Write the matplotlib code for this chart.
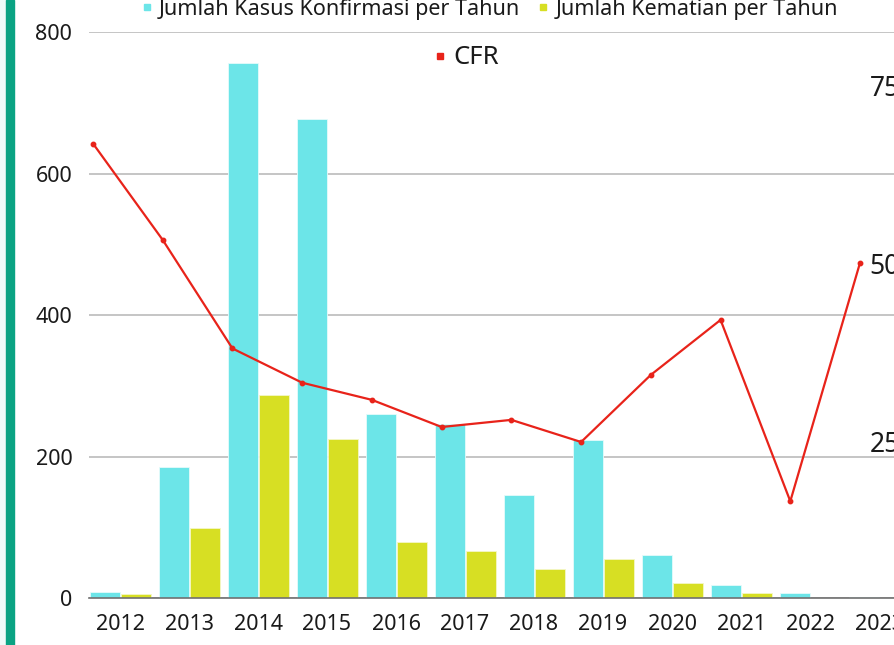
import matplotlib
matplotlib.use("Agg")
import matplotlib.pyplot as plt
from matplotlib.lines import Line2D
from matplotlib.patches import Rectangle
import numpy as np

plt.rcParams['font.family'] = ['Noto Sans', 'DejaVu Sans']

years = ['2012', '2013', '2014', '2015', '2016', '2017', '2018', '2019', '2020', '2021', '2022', '2023']
cases = [9, 186, 756, 677, 260, 247, 146, 224, 61, 19, 7, 2]
deaths = [6, 99, 287, 225, 80, 67, 41, 56, 21, 8, 1, 1]
cfr = [66.8, 53.3, 38.1, 33.3, 30.9, 27.1, 28.1, 25.0, 34.4, 42.1, 16.7, 50.1]

C_CASE = '#6ce5e8'
C_DEATH = '#d7df23'
C_CFR = '#e8231a'
C_GRID = '#c0c0c0'
TXT = '#1a1a1a'

W, H = 895, 645
fig = plt.figure(figsize=(W / 100, H / 100), dpi=100)
fig.patch.set_facecolor('white')

# left decoration
fig.add_artist(Rectangle((0, 0), 6 / W, 1, transform=fig.transFigure, color='#effbf9', zorder=0))
fig.add_artist(Rectangle((6 / W, 0), 8 / W, 1, transform=fig.transFigure, color='#0aa383', zorder=0))

def rect(l, r, top, bot):
    return [l / W, 1 - bot / H, (r - l) / W, (bot - top) / H]

ax_l, ax_r, ax_t, ax_b = 89, 910, 32.3, 598.3
ax = fig.add_axes(rect(ax_l, ax_r, ax_t, ax_b))
x = np.arange(len(years))
bw = 0.435
ax.bar(x - 0.225, cases, bw, color=C_CASE, edgecolor='#e6fbfb', linewidth=0.6, zorder=2)
ax.bar(x + 0.225, deaths, bw, color=C_DEATH, edgecolor='#f4f7c8', linewidth=0.6, zorder=2)
ax.set_xlim(-0.45, -0.45 + (ax_r - ax_l) / 69.0)
ax.set_ylim(0, 800)
ax.set_yticks([0, 200, 400, 600, 800])
ax.set_xticks(x)
ax.set_xticklabels(years)
ax.yaxis.grid(True, color=C_GRID, linewidth=1.3, zorder=0)
ax.set_axisbelow(True)
for s in ['top', 'right', 'left']:
    ax.spines[s].set_visible(False)
ax.spines['bottom'].set_color('#707070')
ax.spines['bottom'].set_linewidth(1.2)
ax.spines['bottom'].set_zorder(3)
ax.tick_params(axis='both', length=0, labelsize=15.5, labelcolor=TXT)
ax.tick_params(axis='y', pad=12)
ax.tick_params(axis='x', pad=11.5)

# CFR overlay axes
ax2 = fig.add_axes(rect(ax_l, ax_r, ax_t, ax_b))
ax2.patch.set_alpha(0)
px_per_idx = 69.73
x0_px = 93
ax2.set_xlim((ax_l - x0_px) / px_per_idx, (ax_r - x0_px) / px_per_idx)
zero_px, ppu = 620.5, 7.14
ax2.set_ylim((zero_px - ax_b) / ppu, (zero_px - ax_t) / ppu)
ax2.plot(x, cfr, color=C_CFR, linewidth=1.6, marker='o', markersize=3.2, zorder=4)
ax2.set_xticks([])
ax2.yaxis.tick_right()
ax2.set_yticks([25, 50, 75])
ax2.tick_params(axis='y', length=0, labelsize=19, labelcolor=TXT, pad=-29)
for s in ax2.spines.values():
    s.set_visible(False)

# legends
h1 = [Line2D([], [], linestyle='none', marker='s', markersize=4, color=C_CASE),
      Line2D([], [], linestyle='none', marker='s', markersize=4, color=C_DEATH)]
fig.legend(h1, ['Jumlah Kasus Konfirmasi per Tahun', 'Jumlah Kematian per Tahun'],
           loc='center', bbox_to_anchor=(490 / W, 1 - 9 / H), ncol=2, frameon=False,
           fontsize=15.5, handlelength=0.4, handletextpad=0.35, columnspacing=0.9,
           labelcolor=TXT, borderpad=0)
h2 = [Line2D([], [], linestyle='none', marker='s', markersize=4.5, color=C_CFR)]
fig.legend(h2, ['CFR'], loc='center', bbox_to_anchor=(467 / W, 1 - 58 / H), frameon=False,
           fontsize=18.5, handlelength=0.4, handletextpad=0.35, labelcolor=TXT, borderpad=0)

fig.savefig('out.png', dpi=100)
